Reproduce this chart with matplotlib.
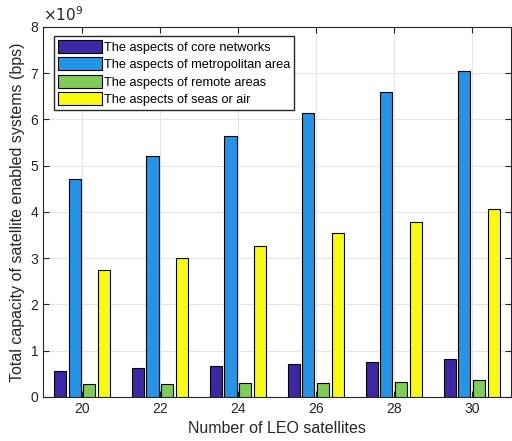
import matplotlib.pyplot as plt
import numpy as np

plt.rcParams['font.family'] = ['Liberation Sans', 'DejaVu Sans']

satellites = [20, 22, 24, 26, 28, 30]
core = [0.56, 0.62, 0.66, 0.72, 0.76, 0.81]
metro = [4.72, 5.20, 5.65, 6.13, 6.59, 7.05]
remote = [0.27, 0.28, 0.30, 0.31, 0.33, 0.37]
seas = [2.74, 3.00, 3.27, 3.55, 3.79, 4.07]

labels = ["The aspects of core networks",
          "The aspects of metropolitan area",
          "The aspects of remote areas",
          "The aspects of seas or air"]
colors = ["#3E26A8", "#2394E6", "#80CC59", "#F9FB0E"]

fig = plt.figure(figsize=(5.12, 4.41), dpi=100)
ax = fig.add_axes([0.084, 0.1, 0.9135, 0.839])

x = np.array(satellites, dtype=float)
width = 0.31
offsets = [-0.56, -0.19, 0.19, 0.56]
for vals, off, c, lab in zip([core, metro, remote, seas], offsets, colors, labels):
    ax.bar(x + off, np.array(vals) * 1e9, width=width, color=c,
           edgecolor="black", linewidth=0.8, label=lab, zorder=3)

ax.set_xlim(19, 31)
ax.set_ylim(0, 8e9)
ax.set_xticks(satellites)
ax.set_yticks(np.arange(0, 9) * 1e9)
ax.set_yticklabels([str(i) for i in range(9)])
ax.grid(True, color="#e6e6e6", linewidth=0.8, zorder=0)
ax.tick_params(direction="in", top=True, right=True, labelsize=10,
               colors="#262626", length=4)
for s in ax.spines.values():
    s.set_color("#262626")
    s.set_linewidth(0.8)

ax.text(0, 1.008, r"$\times10^{9}$", transform=ax.transAxes,
        fontsize=11, color="#262626", va="bottom", ha="left")

ax.set_xlabel("Number of LEO satellites", fontsize=11.5, color="#262626")
ax.set_ylabel("Total capacity of satellite enabled systems (bps)",
              fontsize=11.5, color="#262626")

leg = ax.legend(loc="upper left", bbox_to_anchor=(0.024, 0.975), fontsize=9.2,
                fancybox=False, edgecolor="#262626", framealpha=1,
                handlelength=3.4, handleheight=1.15, handletextpad=0.2,
                labelspacing=0.3, borderpad=0.3, borderaxespad=0)
leg.get_frame().set_linewidth(1.0)

plt.savefig("out.png", dpi=100)
